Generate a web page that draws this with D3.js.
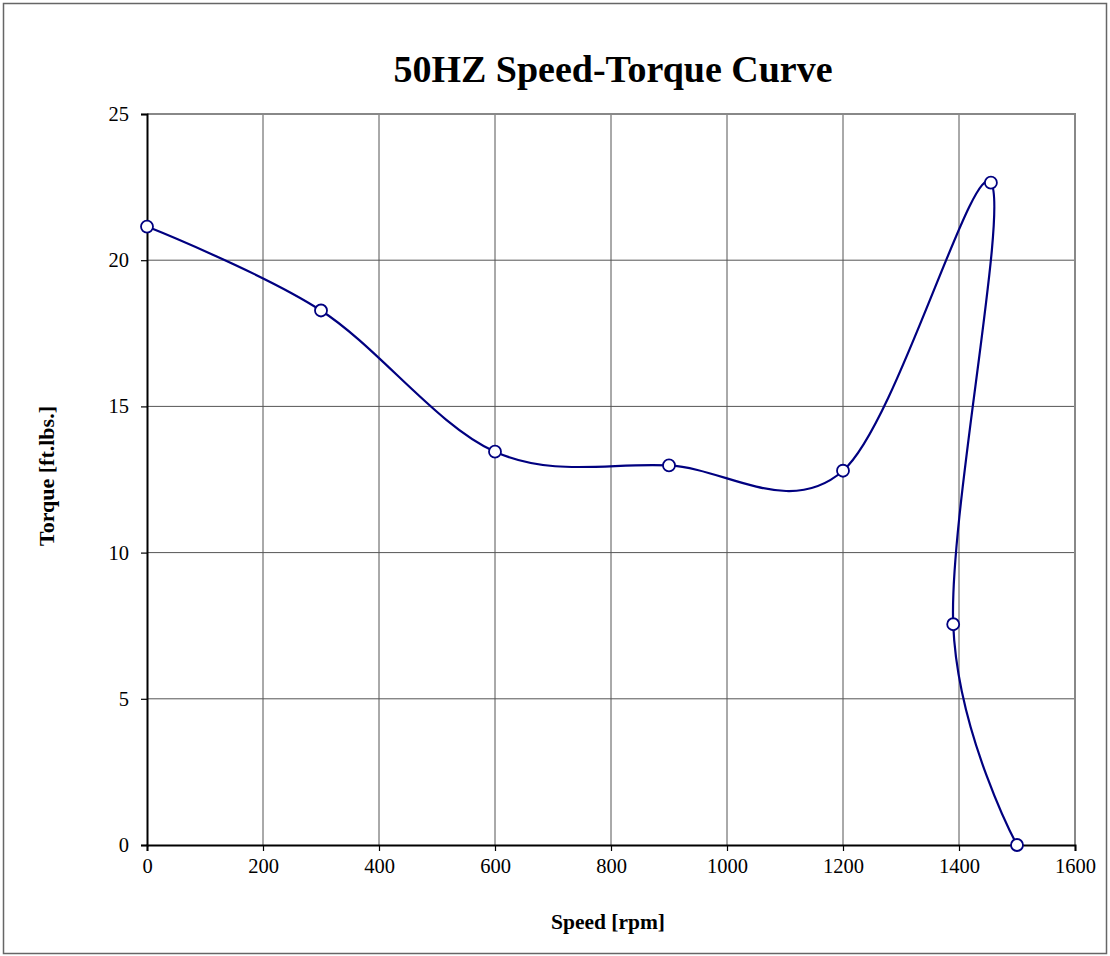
<!DOCTYPE html>
<html>
<head>
<meta charset="utf-8">
<script src="https://cdn.jsdelivr.net/npm/d3@7"></script>
<style>
  body { margin: 0; background: #fff; }
  text { font-family: "Liberation Serif", "Times New Roman", serif; }
</style>
</head>
<body>
<div class="canva"></div>
<script>
// speed in rpm, torque in ft.lbs. (in the order the curve is drawn)
const speeds = [0, 300, 600, 900, 1200, 1455, 1390, 1500];
const torques = [21.15, 18.28, 13.45, 12.98, 12.8, 22.65, 7.55, 0];
const xTicks = [0, 200, 400, 600, 800, 1000, 1200, 1400, 1600];
const yTicks = [0, 5, 10, 15, 20, 25];

const W = 1110, H = 956;
const margin = {top: 114, right: 35, bottom: 111, left: 147};
const graphWidth = W - margin.left - margin.right;
const graphHeight = H - margin.top - margin.bottom;

const svg = d3.select(".canva").append("svg")
    .attr("width", W)
    .attr("height", H);

// outer frame
svg.append("rect")
    .attr("x", 3.5).attr("y", 3.5)
    .attr("width", W - 7).attr("height", H - 6)
    .attr("fill", "none")
    .attr("stroke", "#666")
    .attr("stroke-width", 1.5);

svg.append("text")
    .attr("x", 613).attr("y", 82)
    .attr("text-anchor", "middle")
    .attr("font-size", 38)
    .attr("font-weight", "bold")
    .text("50HZ Speed-Torque Curve");

const g = svg.append("g")
    .attr("transform", `translate(${margin.left}, ${margin.top})`);

const x = d3.scaleLinear().domain([0, 1600]).range([0, graphWidth]);
const y = d3.scaleLinear().domain([0, 25]).range([graphHeight, 0]);

// grid
g.append("g").selectAll("line")
    .data(xTicks.slice(1, -1))
    .join("line")
    .attr("x1", d => x(d)).attr("x2", d => x(d))
    .attr("y1", 0).attr("y2", graphHeight)
    .attr("stroke", "#555").attr("stroke-width", 1);

g.append("g").selectAll("line")
    .data(yTicks.slice(1, -1))
    .join("line")
    .attr("x1", 0).attr("x2", graphWidth)
    .attr("y1", d => y(d)).attr("y2", d => y(d))
    .attr("stroke", "#555").attr("stroke-width", 1);

// plot border top / right
g.append("path")
    .attr("d", `M0,${y(25)}H${x(1600)}V${y(0)}`)
    .attr("fill", "none")
    .attr("stroke", "#888")
    .attr("stroke-width", 2);

// axes
const xAxis = d3.axisBottom(x).tickValues(xTicks).tickSize(6).tickPadding(7).tickFormat(d3.format("d"));
const yAxis = d3.axisLeft(y).tickValues(yTicks).tickSize(6).tickPadding(12).tickFormat(d3.format("d"));

const gx = g.append("g")
    .attr("transform", `translate(0, ${graphHeight})`)
    .call(xAxis);
const gy = g.append("g").call(yAxis);

[gx, gy].forEach(a => {
    a.select(".domain").attr("stroke", "#000").attr("stroke-width", 2);
    a.selectAll(".tick line").attr("stroke", "#000").attr("stroke-width", 1.2);
    a.selectAll(".tick text")
        .attr("font-family", "Liberation Serif, Times New Roman, serif")
        .attr("font-size", 20.5)
        .attr("fill", "#000");
});
gy.selectAll(".tick text").attr("dy", "0.32em");

// axis titles
svg.append("text")
    .attr("x", 608).attr("y", 929)
    .attr("text-anchor", "middle")
    .attr("font-size", 21.5)
    .attr("font-weight", "bold")
    .text("Speed [rpm]");

svg.append("text")
    .attr("transform", "translate(54, 476) rotate(-90)")
    .attr("text-anchor", "middle")
    .attr("font-size", 22)
    .attr("font-weight", "bold")
    .text("Torque [ft.lbs.]");

// curve
const pts = speeds.map((s, i) => [s, torques[i]]);
const line = d3.line()
    .x(d => x(d[0]))
    .y(d => y(d[1]))
    .curve(d3.curveCardinal.tension(0));

g.append("path")
    .datum(pts)
    .attr("fill", "none")
    .attr("stroke", "#000080")
    .attr("stroke-width", 2.2)
    .attr("d", line);

g.selectAll("circle.pt")
    .data(pts)
    .join("circle")
    .attr("class", "pt")
    .attr("cx", d => x(d[0]))
    .attr("cy", d => y(d[1]))
    .attr("r", 6)
    .attr("fill", "#fff")
    .attr("stroke", "#000080")
    .attr("stroke-width", 1.8);
</script>
</body>
</html>
